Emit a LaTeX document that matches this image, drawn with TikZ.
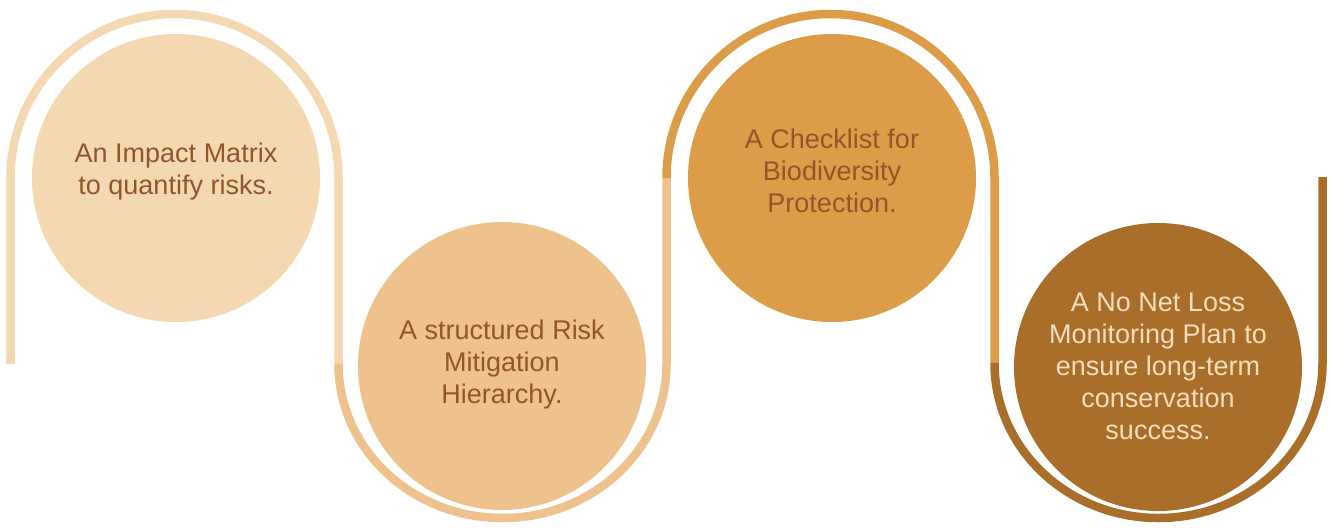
\documentclass[tikz,border=0pt]{standalone}
\usepackage{fontspec}
\setmainfont{Liberation Sans}
\definecolor{cA}{HTML}{F4D8B1}
\definecolor{cB}{HTML}{EDC28D}
\definecolor{cC}{HTML}{DC9C48}
\definecolor{cD}{HTML}{A86E2A}
\definecolor{txtD}{HTML}{93562A}
\definecolor{txtL}{HTML}{F6DEBF}
\begin{document}
\begin{tikzpicture}[x=1pt,y=-1pt,
  bubble/.style={circle,inner sep=0pt,minimum size=288pt,draw=none},
  band/.style={line width=8.5pt,line cap=butt},
  txtlab/.style={align=center,font=\fontsize{27}{32}\selectfont,text=txtD,inner sep=0pt}]
\useasboundingbox (0,0) rectangle (1330,528);
% band coordinates
\coordinate (b1s) at (10.5,364);
\coordinate (b1a) at (10.5,178);
\coordinate (j12) at (338.5,364);
\coordinate (j23) at (666.5,178);
\coordinate (b2a) at (666.5,364);
\coordinate (j34) at (994.5,363);
\coordinate (b4e) at (1322.5,177);
% bands
\draw[band,cA] (b1s) -- (b1a) arc[start angle=180,end angle=360,radius=164] -- (j12);
\draw[band,cB] (j12) arc[start angle=180,end angle=0,x radius=164,y radius=154] -- (j23);
\draw[band,cC] (j23) arc[start angle=180,end angle=360,radius=164] -- (j34);
\draw[band,cD] (j34) arc[start angle=180,end angle=0,x radius=164,y radius=155] -- (b4e);
% circles
\node[bubble,fill=cA] (n1) at (176,178) {};
\node[bubble,fill=cB] (n2) at (502,366) {};
\node[bubble,fill=cC] (n3) at (832,178) {};
\node[bubble,fill=cD] (n4) at (1158,367) {};
% texts
\node[txtlab] (t1) at (176,171.5) {An Impact Matrix\\to quantify risks.};
\node[txtlab] (t2) at (502,364.5) {A structured Risk\\Mitigation\\Hierarchy.};
\node[txtlab] (t3) at (832,171) {A Checklist for\\Biodiversity\\Protection.};
\node[txtlab,text=txtL] (t4) at (1158,366) {A No Net Loss\\Monitoring Plan to\\ensure long-term\\conservation\\success.};
\end{tikzpicture}
\end{document}
